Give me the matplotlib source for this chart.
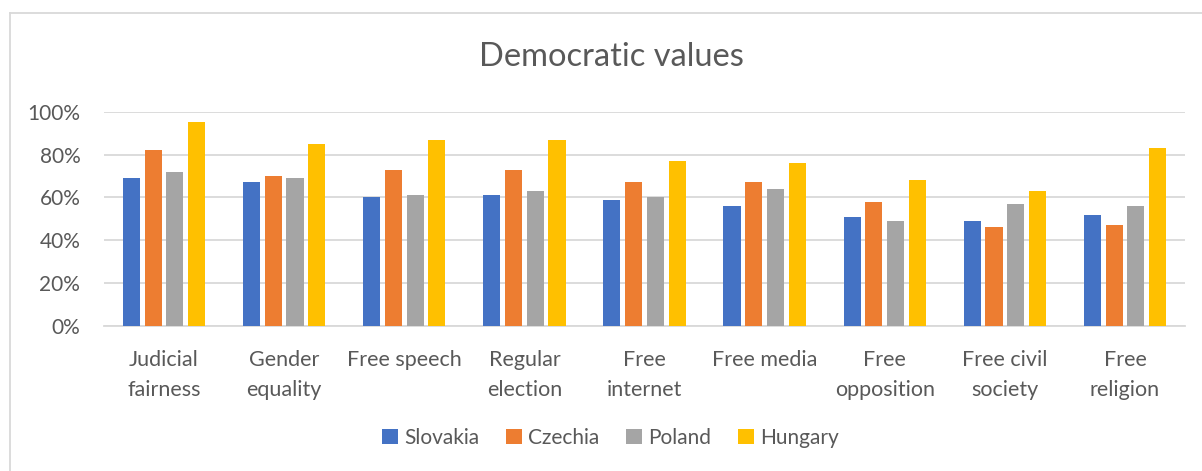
import matplotlib.pyplot as plt
import numpy as np
from matplotlib.lines import Line2D

# 数据
categories = ["Judicial\nfairness", "Gender\nequality", "Free speech", "Regular\nelection",
              "Free\ninternet", "Free media", "Free\nopposition", "Free civil\nsociety", "Free\nreligion"]
countries = ["Slovakia", "Czechia", "Poland", "Hungary"]
slovakia = [69, 67, 60, 61, 59, 56, 51, 49, 52]
czechia = [82, 70, 73, 73, 67, 67, 58, 46, 47]
poland = [72, 69, 61, 63, 60, 64, 49, 57, 56]
hungary = [95, 85, 87, 87, 77, 76, 68, 63, 83]
series = [slovakia, czechia, poland, hungary]
colors = ["#4472C4", "#ED7D31", "#A5A5A5", "#FFC000"]

txt = "#595959"
grid = "#d9d9d9"
plt.rcParams['font.family'] = ['Lato', 'DejaVu Sans']

fig = plt.figure(figsize=(12.02, 4.71), dpi=100, facecolor='white')
ax = fig.add_axes([0.0865, 0.3079, 0.8994, 0.4549])

x = np.arange(len(categories))
slot = 0.181
w = 0.142
for i, (vals, c, name) in enumerate(zip(series, colors, countries)):
    ax.bar(x + (i - 1.5) * slot, np.array(vals) / 100, width=w, color=c, label=name, zorder=3)

ax.set_xlim(-0.5, len(categories) - 0.5)
ax.set_ylim(0, 1.0)
ax.set_yticks(np.arange(0, 1.01, 0.2))
ax.set_yticklabels([f"{int(round(v * 100))}%" for v in np.arange(0, 1.01, 0.2)])
ax.yaxis.grid(True, color=grid, linewidth=1.3, zorder=0)
ax.set_xticks(x)
ax.set_xticklabels(categories, va='top', linespacing=1.65)
for s in ['top', 'right', 'left']:
    ax.spines[s].set_visible(False)
ax.spines['bottom'].set_color(grid)
ax.spines['bottom'].set_linewidth(1.3)
ax.tick_params(axis='both', length=0, colors=txt, labelsize=15.5)
ax.tick_params(axis='y', labelsize=15, pad=17)
ax.tick_params(axis='x', pad=17)

fig.text(0.5085, 0.879, "Democratic values", ha='center', va='center', fontsize=23.5, color=txt)

leg = fig.legend(loc='center', bbox_to_anchor=(0.508, 0.07), ncol=4, frameon=False,
                 fontsize=15, handlelength=0.75, handleheight=0.75, handletextpad=0.3,
                 columnspacing=1.3)
for t in leg.get_texts():
    t.set_color(txt)

# 外框
fig.add_artist(Line2D([10 / 1202, 10 / 1202], [0, 1 - 13 / 471], color=grid, linewidth=1.3))
fig.add_artist(Line2D([10 / 1202, 1], [1 - 13 / 471, 1 - 13 / 471], color=grid, linewidth=1.3))

fig.savefig("out.png", dpi=100, facecolor='white')
